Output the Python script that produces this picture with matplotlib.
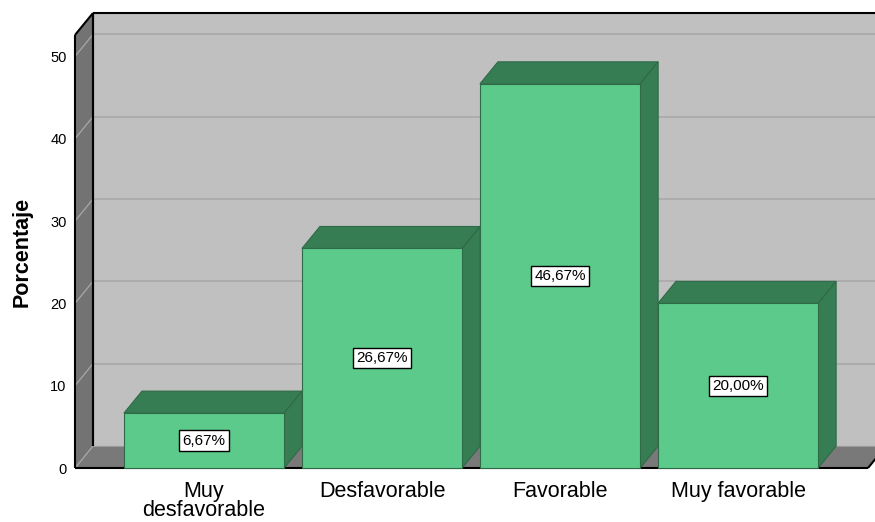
import matplotlib
matplotlib.use("Agg")
import matplotlib.pyplot as plt
from matplotlib.patches import Polygon

plt.rcParams['font.family'] = ['Liberation Sans', 'DejaVu Sans']

categorias = ['Muy\ndesfavorable', 'Desfavorable', 'Favorable', 'Muy favorable']
porcentajes = [6.67, 26.67, 46.67, 20.00]
yticks = [0, 10, 20, 30, 40, 50]

# colores tipo SPSS
verde = '#5bca8a'
verde_osc = '#377d53'
borde_barra = '#2f6a47'
pared_fondo = '#c0c0c0'
pared_izq = '#737373'
suelo = '#797979'

xmin, xmax = -0.725, 3.73
ymin, ymax = 0, 52.6
dx, dy = 0.101, 2.67      # profundidad del efecto 3D
ancho = 0.9

fig = plt.figure(figsize=(8.75, 5.22), dpi=100)
ax = fig.add_axes([75 / 875, 54 / 522, 793 / 875, 433 / 522])
ax.set_xlim(xmin, xmax)
ax.set_ylim(ymin, ymax)
ax.patch.set_visible(False)
for s in ax.spines.values():
    s.set_visible(False)


def poly(pts, fc, ec='none', lw=0, z=1):
    p = Polygon(pts, closed=True, facecolor=fc, edgecolor=ec, linewidth=lw,
                zorder=z, clip_on=False)
    ax.add_patch(p)


def linea(xs, ys, c='black', lw=1.2, z=3):
    ax.plot(xs, ys, color=c, lw=lw, zorder=z, clip_on=False, solid_capstyle='butt')


# pared del fondo
poly([(xmin + dx, dy), (xmax + dx, dy), (xmax + dx, ymax + dy), (xmin + dx, ymax + dy)], pared_fondo)
for t in yticks[1:]:
    linea([xmin + dx, xmax + dx], [t + dy, t + dy], c='#aaaaaa', lw=1.3, z=1.5)
linea([xmin + dx, xmax + dx], [ymax + dy, ymax + dy], lw=1.5)
linea([xmin + dx, xmin + dx], [dy, ymax + dy], lw=1.5)

# pared izquierda
poly([(xmin, 0), (xmin + dx, dy), (xmin + dx, ymax + dy), (xmin, ymax)], pared_izq, z=2)
for t in yticks[1:]:
    linea([xmin, xmin + dx], [t, t + dy], c='#a8a8a8', lw=0.9, z=2.5)

# suelo
poly([(xmin, 0), (xmax, 0), (xmax + dx, dy), (xmin + dx, dy)], suelo, z=2)
linea([xmin + dx, xmax + dx], [dy, dy], c='#9a9a9a', lw=0.8, z=2.5)
linea([xmin, xmin + dx], [0, dy], c='#a8a8a8', lw=0.9, z=2.5)

# bordes
linea([xmin, xmin], [0, ymax], lw=1.5)
linea([xmin, xmin + dx], [ymax, ymax + dy], lw=1.5)
linea([xmin + dx, xmin + dx], [dy, ymax + dy], lw=1.5)
linea([xmin, xmax], [0, 0], lw=1.5)
linea([xmax, xmax + dx], [0, dy], lw=1.5)

# barras 3D
for i, v in enumerate(porcentajes):
    x0, x1 = i - ancho / 2, i + ancho / 2
    z = 4 + i
    poly([(x0, v), (x1, v), (x1 + dx, v + dy), (x0 + dx, v + dy)], verde_osc, borde_barra, 0.8, z)
    poly([(x1, 0), (x1 + dx, dy), (x1 + dx, v + dy), (x1, v)], verde_osc, borde_barra, 0.8, z)
    poly([(x0, 0), (x1, 0), (x1, v), (x0, v)], verde, borde_barra, 0.8, z + 0.1)
    ax.text(i, v / 2, f"{v:.2f}%".replace('.', ','), ha='center', va='center',
            fontsize=11, zorder=20,
            bbox=dict(boxstyle='square,pad=0.2', facecolor='white', edgecolor='black', linewidth=1))

ax.set_yticks(yticks)
ax.set_yticklabels([str(t) for t in yticks], va='center_baseline')
ax.set_xticks(range(len(categorias)))
ax.set_xticklabels(categorias, fontsize=15.5, linespacing=0.88)
ax.tick_params(axis='y', length=0, pad=6, labelsize=10.5)
ax.tick_params(axis='x', length=0, pad=9.5)
ax.set_ylabel('Porcentaje', fontsize=15.5, fontweight='bold', labelpad=13)

fig.savefig('out.png', dpi=100)
